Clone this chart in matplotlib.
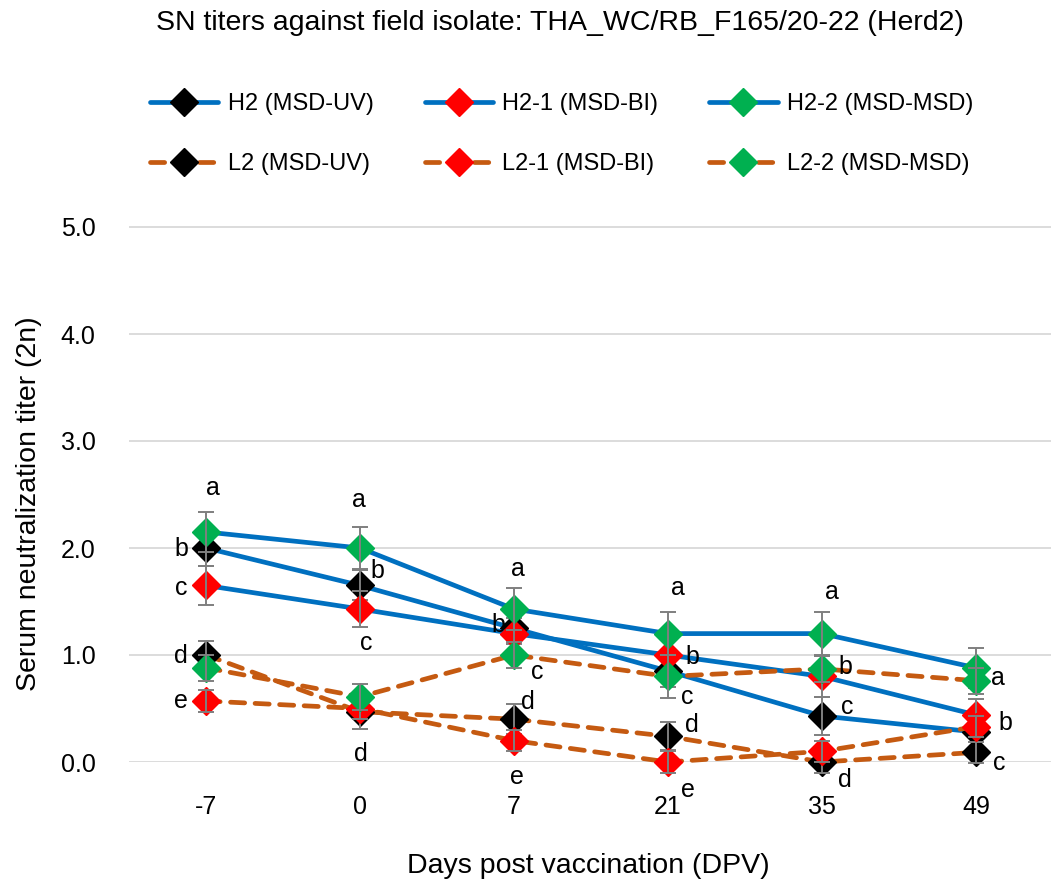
import matplotlib
matplotlib.use("Agg")
import matplotlib.pyplot as plt
import numpy as np

# ---------------- data ----------------
days = ['-7', '0', '7', '21', '35', '49']

h2 = [2.00, 1.65, 1.25, 0.85, 0.43, 0.28]
h2_1 = [1.65, 1.43, 1.20, 1.00, 0.80, 0.44]
h2_2 = [2.15, 2.00, 1.43, 1.20, 1.20, 0.88]
l2 = [1.00, 0.47, 0.40, 0.24, 0.00, 0.09]
l2_1 = [0.57, 0.50, 0.20, 0.00, 0.10, 0.33]
l2_2 = [0.88, 0.61, 1.00, 0.80, 0.87, 0.76]

h2_err = [0.17, 0.14, 0.15, 0.15, 0.18, 0.15]
h2_1_err = [0.18, 0.17, 0.15, 0.15, 0.19, 0.15]
h2_2_err = [0.19, 0.20, 0.20, 0.20, 0.20, 0.19]
l2_err = [0.13, 0.16, 0.14, 0.13, 0.10, 0.10]
l2_1_err = [0.10, 0.10, 0.10, 0.10, 0.10, 0.10]
l2_2_err = [0.12, 0.12, 0.12, 0.20, 0.12, 0.12]

labels = ['H2 (MSD-UV)', 'H2-1 (MSD-BI)', 'H2-2 (MSD-MSD)',
          'L2 (MSD-UV)', 'L2-1 (MSD-BI)', 'L2-2 (MSD-MSD)']

# significance letters: (day index, letter, x, y) in data coords
letters = [
    (0, 'a', 0.045, 2.56), (0, 'b', -0.16, 1.99), (0, 'c', -0.16, 1.63),
    (0, 'd', -0.16, 0.99), (0, 'e', -0.16, 0.57),
    (1, 'a', 0.995, 2.45), (1, 'b', 1.11, 1.785), (1, 'c', 1.04, 1.11),
    (1, 'd', 1.005, 0.075),
    (2, 'a', 2.026, 1.80), (2, 'b', 1.896, 1.28), (2, 'c', 2.15, 0.84),
    (2, 'd', 2.09, 0.56), (2, 'e', 2.02, -0.14),
    (3, 'a', 3.065, 1.626), (3, 'b', 3.156, 0.98), (3, 'c', 3.123, 0.607),
    (3, 'd', 3.156, 0.346), (3, 'e', 3.13, -0.262),
    (4, 'a', 4.065, 1.589), (4, 'b', 4.149, 0.888), (4, 'c', 4.162, 0.514),
    (4, 'd', 4.149, -0.168),
    (5, 'a', 5.143, 0.785), (5, 'b', 5.188, 0.364), (5, 'c', 5.149, -0.009),
]

# ---------------- style ----------------
FONT = ['Liberation Sans', 'Arial', 'DejaVu Sans']
plt.rcParams['font.family'] = FONT
FS_TICK = 18
FS_LEG = 17
FS_BIG = 20.5

BLUE = '#0070C0'
ORANGE = '#C55A11'
marker_colors = ['black', '#FF0000', '#00B050']

W, H = 1051, 889
fig = plt.figure(figsize=(W / 100, H / 100), dpi=100)

# axes: x from 129 px to 1053 px; y=0 at 762 px, y=5 at 227 px
y_top = 5.2
px_per_unit = (762 - 227) / 5.0
ax_top_px = 227 - (y_top - 5.0) * px_per_unit
ax = fig.add_axes([129 / W, (H - 762) / H, 924 / W, (762 - ax_top_px) / H])

x = np.arange(len(days))
series = [h2, h2_1, h2_2, l2, l2_1, l2_2]
errs = [h2_err, h2_1_err, h2_2_err, l2_err, l2_1_err, l2_2_err]

handles = []
for i, (vals, err, lab) in enumerate(zip(series, errs, labels)):
    is_h = i < 3
    color = BLUE if is_h else ORANGE
    mc = marker_colors[i % 3]
    z = 3 + i * 0.1
    kw = dict(color=color, lw=3.4, marker='D', markersize=14,
              markerfacecolor=mc, markeredgecolor=mc, zorder=z, clip_on=False,
              label=lab)
    if is_h:
        ln, = ax.plot(x, vals, solid_capstyle='round', **kw)
    else:
        ln, = ax.plot(x, vals, dashes=(3, 2.2), dash_capstyle='round', **kw)
    ax.errorbar(x, vals, yerr=err, fmt='none', ecolor='#7F7F7F', elinewidth=1.4,
                capsize=6, capthick=1.4, zorder=z + 0.05, clip_on=False)
    handles.append(ln)

for _, letter, lx, ly in letters:
    ax.text(lx, ly, letter, ha='center', va='center', fontsize=FS_TICK,
            clip_on=False, zorder=10)

ax.set_xlim(-0.5, 5.5)
ax.set_ylim(0, y_top)
ax.set_yticks(np.arange(0, 5.1, 1.0))
ax.set_yticklabels([f'{v:.1f}' for v in np.arange(0, 5.1, 1.0)])
ax.set_xticks(x)
ax.set_xticklabels(days)
ax.tick_params(axis='both', length=0, labelsize=FS_TICK)
ax.tick_params(axis='x', pad=24)
ax.tick_params(axis='y', pad=24)
ax.grid(axis='y', color='#D9D9D9', lw=1.3, zorder=0)
ax.set_axisbelow(True)
for s in ax.spines.values():
    s.set_visible(False)

fig.text(29 / W, 1 - 504 / H, 'Serum neutralization titer (2n)', rotation=90,
         ha='center', va='center', fontsize=FS_BIG)
fig.text(588 / W, 1 - 866 / H, 'Days post vaccination (DPV)', ha='center',
         va='center', fontsize=FS_BIG)
fig.text(560 / W, 1 - 23 / H, 'SN titers against field isolate: THA_WC/RB_F165/20-22 (Herd2)',
         ha='center', va='center', fontsize=FS_BIG)

order = [0, 3, 1, 4, 2, 5]
fig.legend([handles[k] for k in order], [labels[k] for k in order],
           loc='upper left', bbox_to_anchor=(150 / W, 1 - 93 / H), ncol=3,
           frameon=False, fontsize=FS_LEG, handlelength=2.9, handletextpad=0.4,
           columnspacing=2.15, labelspacing=1.62, borderpad=0, borderaxespad=0,
           markerscale=1.0)

fig.savefig('out.png', dpi=100)
